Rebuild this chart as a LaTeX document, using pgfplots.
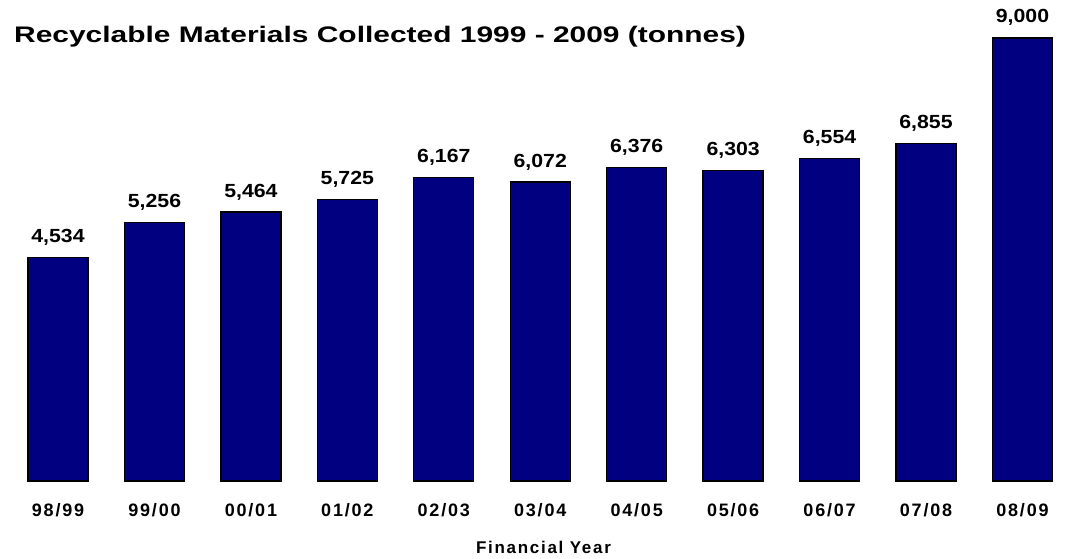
\documentclass[border=0pt]{standalone}
\usepackage{pgfplots}
\pgfplotsset{compat=1.18}
\usepackage{fontspec}
\setmainfont{Liberation Sans}
\newfontfamily\titlefont[FakeStretch=1.33]{Liberation Sans}
\newfontfamily\valfont[FakeStretch=1.12]{Liberation Sans}
\newfontfamily\tickfont[LetterSpace=10]{Liberation Sans}
\newfontfamily\labfont[LetterSpace=10]{Liberation Sans}
\definecolor{barblue}{RGB}{0,0,128}
\begin{document}
\begin{tikzpicture}
\useasboundingbox (0,0) rectangle (1072bp,559bp);
\begin{axis}[
  scale only axis,
  at={(9.8bp,78bp)}, anchor=south west,
  width=1060.9bp, height=443bp,
  xmin=-0.5, xmax=10.5, ymin=0, ymax=9000,
  axis x line*=bottom,
  axis line style={draw=none},
  hide y axis,
  clip=false,
  ybar, bar width=60bp,
  xtick=data,
  xticklabels={98/99,99/00,00/01,01/02,02/03,03/04,04/05,05/06,06/07,07/08,08/09},
  ytick=\empty,
  major tick length=0pt,
  xtick style={draw=none},
  xticklabel style={font=\tickfont\bfseries\fontsize{18bp}{20bp}\selectfont, anchor=base, yshift=-35bp, inner sep=0pt},
  nodes near coords={\valfont\bfseries\fontsize{19bp}{21bp}\selectfont\pgfmathprintnumber[fixed,precision=0,1000 sep={,},assume math mode=true]{\pgfplotspointmeta}},
  every node near coord/.append style={anchor=base, yshift=15bp, inner sep=0pt},
]
\addplot[fill=barblue, draw=black, line width=1.3bp] coordinates {
(0,4534) (1,5256) (2,5464) (3,5725) (4,6167) (5,6072) (6,6376) (7,6303) (8,6554) (9,6855) (10,9000)};
\end{axis}
\node[anchor=base west, inner sep=0pt, font=\titlefont\bfseries\fontsize{22.5bp}{26bp}\selectfont] at (14bp,516bp) {Recyclable Materials Collected 1999 - 2009 (tonnes)};
\node[anchor=base, inner sep=0pt, font=\labfont\bfseries\fontsize{17bp}{20bp}\selectfont] at (543.5bp,6bp) {Financial Year};
\end{tikzpicture}
\end{document}
